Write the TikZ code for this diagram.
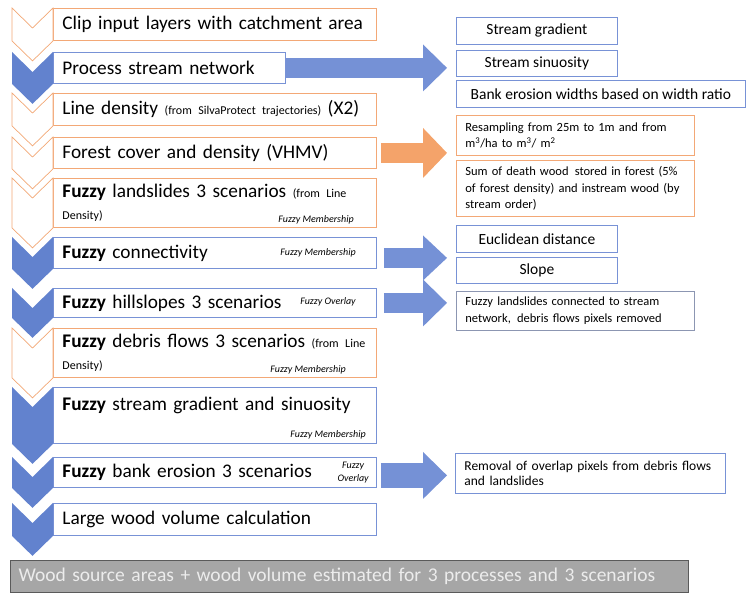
\documentclass[tikz,border=0pt]{standalone}
\usepackage{fontspec}
\setmainfont{Carlito}
\usetikzlibrary{positioning}
\usetikzlibrary{calc}
\usetikzlibrary{arrows.meta}

\definecolor{stepblue}{RGB}{98,130,206}
\definecolor{lineblue}{RGB}{120,146,214}
\definecolor{linegrey}{RGB}{140,150,178}
\definecolor{lineorange}{RGB}{243,168,118}
\definecolor{arroworange}{RGB}{244,163,106}
\definecolor{arrowblue}{RGB}{117,145,214}
\definecolor{barfill}{RGB}{166,166,166}
\definecolor{barline}{RGB}{90,90,90}

\newcommand{\smalltxt}[1]{{\fontsize{12}{13}\selectfont #1}}

\tikzset{
  stepbox/.style={draw, fill=white, line width=0.9pt, anchor=north west, inner xsep=9pt, inner ysep=0pt,
    align=left, text width=305pt, minimum width=323pt, font=\fontsize{19.3}{22}\selectfont},
  orangestep/.style={stepbox, draw=lineorange},
  bluestep/.style={stepbox, draw=lineblue},
  infobox/.style={draw, fill=white, line width=0.8pt, anchor=north west, inner xsep=8pt, inner ysep=0pt,
    font=\fontsize{15.5}{18}\selectfont},
  notebox/.style={infobox, align=left, inner xsep=9pt, font=\fontsize{12.5}{16.5}\selectfont},
  tag/.style={inner sep=0pt, font=\fontsize{10}{13}\selectfont\itshape},
  chevorange/.style={draw=lineorange, fill=white, line width=0.7pt},
  chevblue/.style={fill=stepblue},
  blockarrow/.style={draw=#1, line width=20pt, -{Triangle[width=47pt,length=24pt,line width'=0pt]}},
}

\begin{document}
\begin{tikzpicture}[x=1pt, y=-1pt]
			\useasboundingbox (0,0) rectangle (748,593);

			% Define the steps of the left column
			\node[orangestep, minimum height=32pt] (b1) at (53,8) {Clip input layers with catchment area};
			\node[bluestep, minimum height=31pt, text width=214pt, minimum width=232pt] (b2) at (53,52) {Process stream network};
			\node[orangestep, minimum height=32pt] (b3) at (53,93) {Line density \smalltxt{(from SilvaProtect trajectories)} (X2)};
			\node[orangestep, minimum height=31pt] (b4) at (53,137) {Forest cover and density (VHMV)};
			\node[orangestep, minimum height=49pt] (b5) at (53,178) {\textbf{Fuzzy} landslides 3 scenarios \smalltxt{(from Line}\\\smalltxt{Density)}};
			\node[bluestep, minimum height=31pt] (b6) at (53,237) {\textbf{Fuzzy} connectivity};
			\node[bluestep, minimum height=29pt] (b7) at (53,288) {\textbf{Fuzzy} hillslopes 3 scenarios};
			\node[orangestep, minimum height=49pt] (b8) at (53,328) {\textbf{Fuzzy} debris flows 3 scenarios \smalltxt{(from Line}\\\smalltxt{Density)}};
			\node[bluestep, minimum height=56pt, text depth=24pt] (b9) at (53,387) {\textbf{Fuzzy} stream gradient and sinuosity};
			\node[bluestep, minimum height=30pt] (b10) at (53,457) {\textbf{Fuzzy} bank erosion 3 scenarios};
			\node[bluestep, minimum height=32pt] (b11) at (53,503) {Large wood volume calculation};

			% Method tags inside the steps
			\node[tag, anchor=south east] (m5) at ($(b5.south east)+(-23,-4)$) {Fuzzy Membership};
			\node[tag, anchor=east] (m6) at ($(b6.east)+(-21,0)$) {Fuzzy Membership};
			\node[tag, anchor=east] (m7) at ($(b7.east)+(-21,-1)$) {Fuzzy Overlay};
			\node[tag, anchor=south east] (m8) at ($(b8.south east)+(-31,-4)$) {Fuzzy Membership};
			\node[tag, anchor=south east] (m9) at ($(b9.south east)+(-11,-5)$) {Fuzzy Membership};
			\node[tag, anchor=east, align=center] (m10) at ($(b10.east)+(-8,0)$) {Fuzzy\\Overlay};

			% Draw the chevrons
			\foreach \b/\s in {b1/chevorange, b2/chevblue, b3/chevorange, b4/chevorange, b5/chevorange, b6/chevblue,
			                   b7/chevblue, b8/chevorange, b9/chevblue, b10/chevblue, b11/chevblue}
			\path[\s] ($(\b.north west)+(-41,0)$) -- ($(\b.north west)+(-20.5,20)$) -- (\b.north west)
			   -- (\b.south west) -- ($(\b.south west)+(-20.5,20)$) -- ($(\b.south west)+(-41,0)$) -- cycle;

			% Result bar
			\node[draw=barline, fill=barfill, line width=1pt, anchor=north west, minimum width=678pt, minimum height=32pt,
			      inner xsep=8pt, text width=662pt, align=left, text=white!85!gray, font=\fontsize{19.5}{22}\selectfont] (bar) at (10,560)
			      {Wood source areas + wood volume estimated for 3 processes and 3 scenarios};

			% Define the boxes of the right column
			\node[infobox, draw=lineblue, minimum width=161pt, minimum height=27pt] (grad) at (456,17) {Stream gradient};
			\node[infobox, draw=lineblue, minimum width=161pt, minimum height=26pt] (sinu) at (456,50) {Stream sinuosity};
			\node[infobox, draw=lineblue, minimum width=289pt, minimum height=27pt] (bank) at (456,80) {Bank erosion widths based on width ratio};
			\node[notebox, draw=lineorange, text width=220pt, minimum height=40pt] (resa) at (456,115)
			      {Resampling from 25m to 1m and from\\m\textsuperscript{3}/ha to m\textsuperscript{3}/ m\textsuperscript{2}};
			\node[notebox, draw=lineorange, text width=220pt, minimum height=56pt] (dead) at (456,160)
			      {Sum of death wood\, stored in forest (5\%\\of forest density) and instream wood (by\\stream order)};
			\node[infobox, draw=lineblue, minimum width=161pt, minimum height=27pt] (eucl) at (456,225) {Euclidean distance};
			\node[infobox, draw=lineblue, minimum width=161pt, minimum height=26pt] (slop) at (456,257) {Slope};
			\node[notebox, draw=linegrey, text width=220pt, minimum height=39pt] (conn) at (456,291)
			      {Fuzzy landslides connected to stream\\network,\, debris flows pixels removed};
			\node[notebox, draw=lineblue, text width=252pt, minimum height=40pt, font=\fontsize{13.5}{14.5}\selectfont] (remo) at (455,453)
			      {Removal of overlap pixels from debris flows\\and landslides};

			% Draw the arrows
			\coordinate (tipx) at (447,0);
			\draw[blockarrow=arrowblue] (b2.east) -- (b2.east -| tipx);
			\draw[blockarrow=arroworange, -{Triangle[width=50pt,length=24pt,line width'=0pt]}] ($(b4.east)+(4,0)$) -- (b4.east -| tipx);
			\draw[blockarrow=arrowblue, -{Triangle[width=45pt,length=24pt,line width'=0pt]}] ($(b6.east)+(7,5)$) -- ($(b6.east -| tipx)+(0,5)$);
			\draw[blockarrow=arrowblue] ($(b7.east)+(7,0)$) -- (b7.east -| tipx);
			\draw[blockarrow=arrowblue, line width=25pt] ($(b10.east)+(4,3)$) -- ($(b10.east -| tipx)+(0,3)$);
            \end{tikzpicture}
\end{document}
